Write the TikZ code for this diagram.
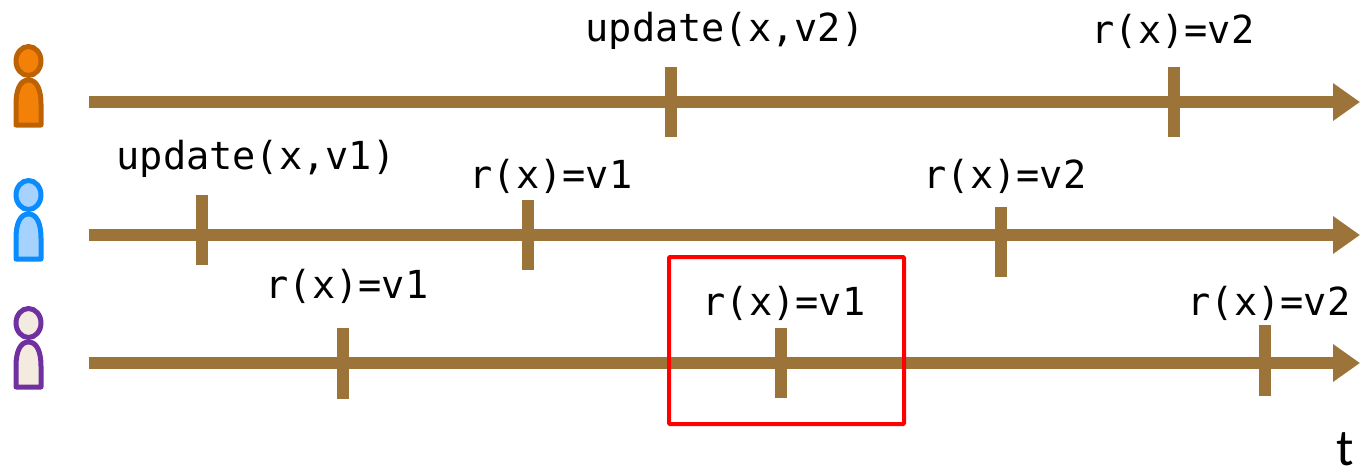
\documentclass[tikz,border=0pt]{standalone}
\usepackage{fontspec}
\setmonofont{DejaVu Sans Mono}
\setsansfont{Carlito}
\usetikzlibrary{arrows.meta}
\definecolor{axisbrown}{HTML}{9C743A}
\definecolor{orangefill}{HTML}{F38107}
\definecolor{orangeline}{HTML}{BD6203}
\definecolor{bluefill}{HTML}{A6D2FF}
\definecolor{blueline}{HTML}{0A8CFF}
\definecolor{purplefill}{HTML}{F3EBE0}
\definecolor{purpleline}{HTML}{7030A0}
\tikzset{
	timeline/.style={draw=axisbrown, line width=12.5pt, -{Triangle[length=27pt,width=36pt]}},
	tick/.style={draw=axisbrown, line width=12.5pt},
	oplabel/.style={font=\ttfamily\fontsize{38.6}{38.6}\selectfont, inner sep=0pt},
	person/.style={line width=5pt, line join=round},
	person top/.pic={
		\path[person, pic actions] (28.5,61) ellipse [x radius=12.5, y radius=14.5];
		\path[person, pic actions] (16,125) -- (16,104) .. controls (16,90) and (20,80) .. (28.5,80)
			.. controls (37,80) and (41,90) .. (41,104) -- (41,125) -- cycle;
	}
}
\begin{document}
\begin{tikzpicture}[x=1pt, y=-1pt]
	\useasboundingbox (0,0) rectangle (1360,469);

	% people
	\pic[draw=orangeline, fill=orangefill] at (0,0) {person top};
	\pic[draw=blueline, fill=bluefill] at (0,134) {person top};
	\pic[draw=purpleline, fill=purplefill] at (0,262) {person top};

	% time axes
	\coordinate (topstart) at (89,102);
	\coordinate (topend) at (1360,102);
	\coordinate (midstart) at (89,235);
	\coordinate (midend) at (1360,235);
	\coordinate (lowstart) at (89,363);
	\coordinate (lowend) at (1360,363);
	\draw[timeline] (topstart) -- (topend);
	\draw[timeline] (midstart) -- (midend);
	\draw[timeline] (lowstart) -- (lowend);

	% ticks
	\draw[tick] (671,67) coordinate (a1) -- (671,137) coordinate (a2);
	\draw[tick] (1174,67) coordinate (b1) -- (1174,137) coordinate (b2);
	\draw[tick] (202,195) coordinate (c1) -- (202,265) coordinate (c2);
	\draw[tick] (528,200) coordinate (d1) -- (528,270) coordinate (d2);
	\draw[tick] (1001,207) coordinate (e1) -- (1001,277) coordinate (e2);
	\draw[tick] (343,328) coordinate (f1) -- (343,399) coordinate (f2);
	\draw[tick] (781,328) coordinate (g1) -- (781,398) coordinate (g2);
	\draw[tick] (1265,325) coordinate (h1) -- (1265,396) coordinate (h2);

	% labels
	\node[oplabel] (upv2) at (725,31) {update(x,v2)};
	\node[oplabel] (rtop) at (1173,31) {r(x)=v2};
	\node[oplabel] (upv1) at (256,159) {update(x,v1)};
	\node[oplabel] (rmida) at (551,176) {r(x)=v1};
	\node[oplabel] (rmidb) at (1005,176) {r(x)=v2};
	\node[oplabel] (rlowa) at (347,286) {r(x)=v1};
	\node[oplabel] (rlowb) at (784,303) {r(x)=v1};
	\node[oplabel] (rlowc) at (1269,303) {r(x)=v2};

	% red box
	\draw[red, line width=4pt, rounded corners=1pt] (669,257) rectangle (904,424);
	\node[font=\sffamily\fontsize{52}{52}\selectfont, inner sep=0pt, anchor=base] (taxis) at (1345,465) {t};
\end{tikzpicture}
\end{document}
